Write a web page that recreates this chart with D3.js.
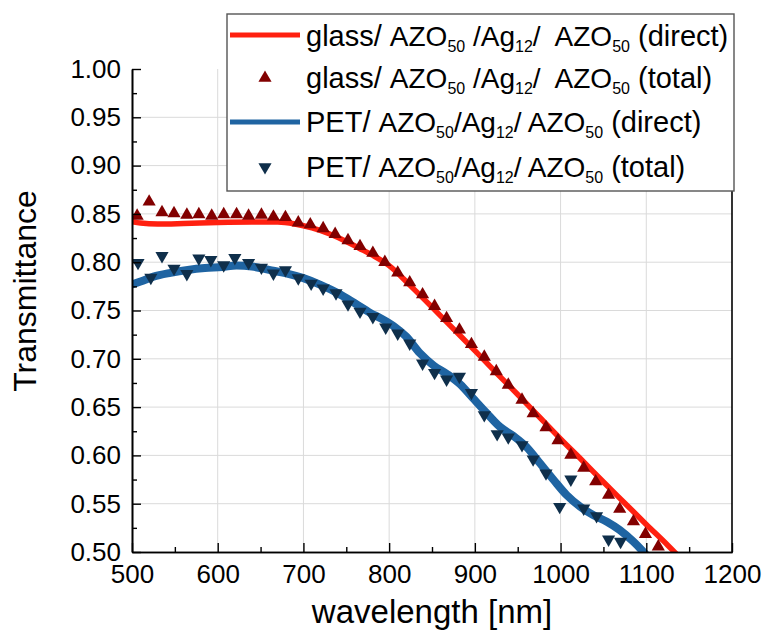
<!DOCTYPE html>
<html>
<head>
    <meta charset="utf-8">
    <title>Transmittance</title>
    <script src="https://d3js.org/d3.v7.min.js"></script>
    <style>
        body { margin: 0; background: #fff; }
    </style>
</head>
<body>
<div id="chart"></div>
<script type="text/javascript">

    // glass/AZO/Ag/AZO - direct transmittance (solid line)
    let glassDirectWl = [500, 510, 530, 560, 600, 640, 670, 690, 710, 730, 750, 765, 780, 800, 825, 850, 875, 900, 925, 950, 975, 1000, 1025, 1050, 1075, 1100, 1125, 1140];
    let glassDirectT  = [0.842, 0.8405, 0.8395, 0.840, 0.841, 0.8415, 0.8415, 0.8395, 0.8355, 0.8295, 0.8215, 0.8145, 0.8075, 0.7965, 0.7755, 0.7535, 0.731, 0.7085, 0.6855, 0.663, 0.640, 0.617, 0.595, 0.5725, 0.5505, 0.5285, 0.507, 0.4935];

    // glass/AZO/Ag/AZO - total transmittance (up triangles)
    let glassTotalWl = [506, 520, 535, 549, 564, 578, 593, 607, 622, 636, 651, 665, 679, 694, 708, 723, 737, 752, 766, 781, 795, 810, 824, 839, 853, 867, 882, 896, 911, 925, 939, 955, 968, 983, 997, 1012, 1027, 1041, 1056, 1069, 1085, 1099, 1114];
    let glassTotalT  = [0.848, 0.8625, 0.8515, 0.8505, 0.849, 0.8495, 0.848, 0.8495, 0.8495, 0.848, 0.849, 0.847, 0.8465, 0.841, 0.839, 0.835, 0.829, 0.8225, 0.8165, 0.8095, 0.800, 0.789, 0.779, 0.7665, 0.7545, 0.742, 0.730, 0.715, 0.702, 0.687, 0.673, 0.6575, 0.6435, 0.629, 0.6155, 0.6005, 0.587, 0.573, 0.559, 0.5445, 0.5315, 0.5185, 0.5055];

    // PET/AZO/Ag/AZO - direct transmittance (thick line)
    let petDirectWl = [500, 510, 525, 545, 565, 585, 605, 622, 640, 660, 680, 700, 720, 740, 760, 778, 790, 805, 820, 836, 852, 867, 883, 898, 914, 929, 945, 960, 976, 992, 1007, 1023, 1038, 1054, 1069, 1085, 1100];
    let petDirectT  = [0.777, 0.780, 0.785, 0.789, 0.792, 0.794, 0.795, 0.7965, 0.7955, 0.792, 0.7885, 0.7835, 0.7765, 0.768, 0.7575, 0.7475, 0.742, 0.734, 0.7229, 0.7057, 0.693, 0.6845, 0.6736, 0.659, 0.6436, 0.6298, 0.6201, 0.609, 0.5918, 0.5745, 0.559, 0.5469, 0.5383, 0.5314, 0.5228, 0.5107, 0.4969];

    // PET/AZO/Ag/AZO - total transmittance (down triangles)
    let petTotalWl = [507, 522, 535, 549, 564, 578, 592, 607, 620, 636, 651, 665, 679, 694, 709, 723, 738, 752, 766, 781, 796, 810, 824, 839, 853, 867, 882, 896, 911, 926, 939, 955, 968, 983, 999, 1012, 1027, 1042, 1056, 1070];
    let petTotalT  = [0.7995, 0.784, 0.8065, 0.7935, 0.788, 0.804, 0.8025, 0.797, 0.8045, 0.7995, 0.7945, 0.7885, 0.792, 0.7835, 0.778, 0.773, 0.768, 0.7565, 0.749, 0.7435, 0.7325, 0.7264, 0.716, 0.6953, 0.6856, 0.6788, 0.6815, 0.6649, 0.6418, 0.6222, 0.6188, 0.6108, 0.596, 0.5815, 0.5469, 0.5752, 0.5452, 0.5373, 0.5131, 0.5107];

    let xTicks = [500, 600, 700, 800, 900, 1000, 1100, 1200];
    let yTicks = [0.50, 0.55, 0.60, 0.65, 0.70, 0.75, 0.80, 0.85, 0.90, 0.95, 1.00];

    let legendRows = [
        {pre: "glass/ ", parts: [["AZO", "50"], [" /Ag", "12"], ["/  AZO", "50"]], post: " (direct)"},
        {pre: "glass/ ", parts: [["AZO", "50"], [" /Ag", "12"], ["/  AZO", "50"]], post: " (total)"},
        {pre: "PET/ ", parts: [["AZO", "50"], ["/Ag", "12"], ["/ AZO", "50"]], post: " (direct)"},
        {pre: "PET/ ", parts: [["AZO", "50"], ["/Ag", "12"], ["/ AZO", "50"]], post: " (total)"}
    ];

    let W = 763, H = 632;
    let pL = 132, pR = 732, pT = 69, pB = 552;
    let font = "'Liberation Sans', Arial, sans-serif";

    let svg = d3.select("#chart")
            .append("svg")
                .attr("width", W)
                .attr("height", H);

    let xScale = d3.scaleLinear().domain([500, 1200]).range([pL, pR]);
    let yScale = d3.scaleLinear().domain([0.5, 1.0]).range([pB, pT]);

    // grid
    svg.append("g").selectAll("line")
        .data(xTicks.slice(1, -1))
        .enter().append("line")
        .attr("x1", d => xScale(d)).attr("x2", d => xScale(d))
        .attr("y1", pT).attr("y2", pB)
        .attr("stroke", "#dadada").attr("stroke-width", 1);
    svg.append("g").selectAll("line")
        .data(yTicks.slice(1, -1))
        .enter().append("line")
        .attr("y1", d => yScale(d)).attr("y2", d => yScale(d))
        .attr("x1", pL).attr("x2", pR)
        .attr("stroke", "#dadada").attr("stroke-width", 1);

    svg.append("clipPath").attr("id", "plotclip")
        .append("rect")
        .attr("x", pL).attr("y", pT)
        .attr("width", pR - pL).attr("height", pB - pT);

    let plot = svg.append("g").attr("clip-path", "url(#plotclip)");

    let line = d3.line()
        .x(d => xScale(d[0]))
        .y(d => yScale(d[1]))
        .curve(d3.curveMonotoneX);

    plot.append("path")
        .datum(petDirectWl.map((w, i) => [w, petDirectT[i]]))
        .attr("d", line)
        .attr("fill", "none")
        .attr("stroke", "#1f64a2")
        .attr("stroke-width", 8)
        .attr("stroke-linejoin", "round");

    plot.append("path")
        .datum(glassDirectWl.map((w, i) => [w, glassDirectT[i]]))
        .attr("d", line)
        .attr("fill", "none")
        .attr("stroke", "#ff2010")
        .attr("stroke-width", 5.5)
        .attr("stroke-linejoin", "round");

    let tri = d3.symbol().type(d3.symbolTriangle).size(75);

    plot.selectAll(".up")
        .data(glassTotalWl.map((w, i) => [w, glassTotalT[i]]))
        .enter().append("path")
        .attr("class", "up")
        .attr("d", tri)
        .attr("transform", d => "translate(" + xScale(d[0]) + "," + yScale(d[1]) + ")")
        .attr("fill", "#820000");

    plot.selectAll(".down")
        .data(petTotalWl.map((w, i) => [w, petTotalT[i]]))
        .enter().append("path")
        .attr("class", "down")
        .attr("d", tri)
        .attr("transform", d => "translate(" + xScale(d[0]) + "," + yScale(d[1]) + ") rotate(180)")
        .attr("fill", "#0f2f4b");

    // axes (inward ticks)
    let xAxis = d3.axisBottom(xScale).tickValues(xTicks).tickSize(-9).tickSizeOuter(0).tickPadding(13).tickFormat(d3.format("d"));
    let xMinor = d3.axisBottom(xScale).tickValues(d3.range(550, 1200, 100)).tickSize(-5).tickSizeOuter(0).tickFormat("");
    let yAxis = d3.axisLeft(yScale).tickValues(yTicks).tickSize(-9).tickSizeOuter(0).tickPadding(11).tickFormat(d3.format(".2f"));
    let yMinor = d3.axisLeft(yScale).tickValues(d3.range(0.525, 1.0, 0.05)).tickSize(-5).tickSizeOuter(0).tickFormat("");

    function styleAxis(g) {
        g.select(".domain").attr("stroke", "#000").attr("stroke-width", 1.6);
        g.selectAll(".tick line").attr("stroke", "#000").attr("stroke-width", 1.4);
        g.selectAll("text").attr("font-family", font).attr("font-size", "26px").attr("fill", "#000");
    }

    svg.append("g").attr("transform", "translate(0," + pB + ")").call(xMinor).call(styleAxis);
    svg.append("g").attr("transform", "translate(0," + pB + ")").call(xAxis).call(styleAxis);
    svg.append("g").attr("transform", "translate(" + pL + ",0)").call(yMinor).call(styleAxis);
    svg.append("g").attr("transform", "translate(" + pL + ",0)").call(yAxis).call(styleAxis);

    svg.append("line")
        .attr("x1", pR).attr("x2", pR)
        .attr("y1", pT).attr("y2", pB + 0.8)
        .attr("stroke", "#000").attr("stroke-width", 1.6);

    // axis titles
    svg.append("text")
        .attr("x", (pL + pR) / 2)
        .attr("y", 623)
        .attr("text-anchor", "middle")
        .attr("font-family", font)
        .attr("font-size", "33px")
        .text("wavelength [nm]");

    svg.append("text")
        .attr("transform", "translate(36,291) rotate(-90)")
        .attr("text-anchor", "middle")
        .attr("font-family", font)
        .attr("font-size", "32px")
        .text("Transmittance");

    // legend
    let lg = svg.append("g");
    lg.append("rect")
        .attr("x", 227).attr("y", 14)
        .attr("width", 507).attr("height", 177)
        .attr("fill", "#fff")
        .attr("stroke", "#555")
        .attr("stroke-width", 1.4);

    let rowBase = [46, 88, 132, 177];
    let symY = [35, 78, 122, 167];

    lg.append("line").attr("x1", 230).attr("x2", 300).attr("y1", symY[0]).attr("y2", symY[0])
        .attr("stroke", "#ff2010").attr("stroke-width", 5);
    lg.append("path").attr("d", tri).attr("transform", "translate(265," + symY[1] + ")").attr("fill", "#820000");
    lg.append("line").attr("x1", 230).attr("x2", 300).attr("y1", symY[2]).attr("y2", symY[2])
        .attr("stroke", "#1f64a2").attr("stroke-width", 5);
    lg.append("path").attr("d", tri).attr("transform", "translate(265," + symY[3] + ") rotate(180)").attr("fill", "#0f2f4b");

    legendRows.forEach(function(r, i) {
        let t = lg.append("text")
            .attr("x", 306).attr("y", rowBase[i])
            .attr("font-family", font)
            .attr("font-size", "29px")
            .attr("fill", "#000")
            .style("white-space", "pre");
        t.append("tspan").text(r.pre);
        let shift = 0;
        r.parts.forEach(function(p) {
            t.append("tspan").attr("font-size", "28px").attr("dy", -shift).text(p[0]);
            t.append("tspan").attr("font-size", "16px").attr("dy", 6).text(p[1]);
            shift = 6;
        });
        t.append("tspan").attr("dy", -shift).text(r.post);
    });

</script>
</body>
</html>
